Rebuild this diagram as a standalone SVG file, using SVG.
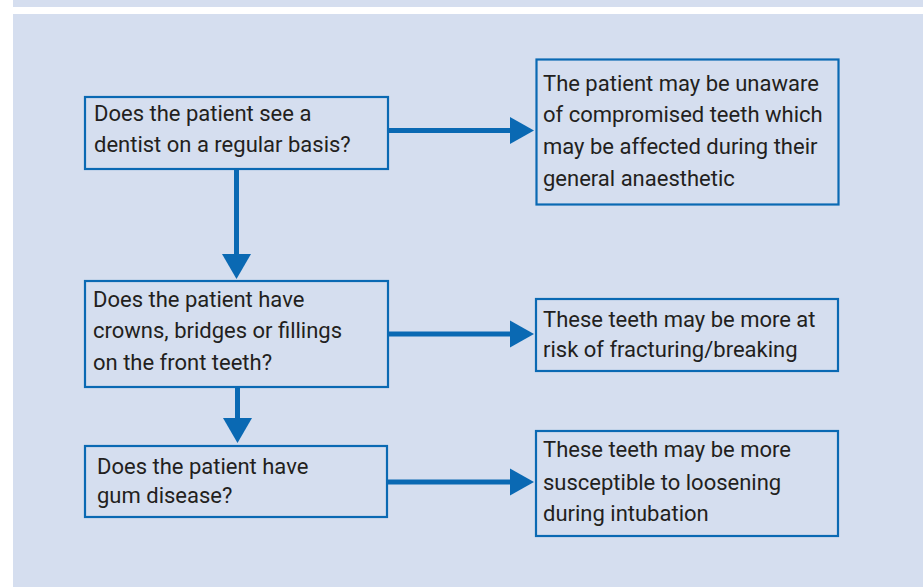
<svg xmlns="http://www.w3.org/2000/svg" width="923" height="587" viewBox="0 0 923 587">
<style>
.box{fill:none;stroke:#0a69b3;stroke-width:2.2}
.t{font-family:Roboto,"Open Sans",sans-serif;font-size:22px;fill:#231f20}
.ln{stroke:#0a69b3;stroke-width:5;fill:none}
.hd{fill:#0a69b3}
</style>
<rect x="0" y="0" width="923" height="587" fill="#ffffff"/>
<rect x="13" y="0" width="910" height="7" fill="#d5deef"/>
<rect x="13" y="14" width="910" height="573" fill="#d5deef"/>
<g id="connectors">
<line class="ln" x1="388" y1="130.5" x2="512" y2="130.5"/>
<polygon class="hd" points="510,117 534,130.5 510,144"/>
<line class="ln" x1="388" y1="334" x2="512" y2="334"/>
<polygon class="hd" points="510,320.5 534,334 510,347.5"/>
<line class="ln" x1="387" y1="482" x2="512" y2="482"/>
<polygon class="hd" points="510,468.5 534,482 510,495.5"/>
<line class="ln" x1="236.5" y1="169" x2="236.5" y2="256"/>
<polygon class="hd" points="222,254 251,254 236.5,279"/>
<line class="ln" x1="237.5" y1="387" x2="237.5" y2="420"/>
<polygon class="hd" points="223,418 252,418 237.5,443"/>
</g>
<g id="q1">
<rect class="box" x="85" y="97" width="303" height="72"/>
<text class="t" x="94" y="121">Does the patient see a</text>
<text class="t" x="94" y="152">dentist on a regular basis?</text>
</g>
<g id="a1">
<rect class="box" x="536.5" y="59.5" width="302" height="145"/>
<text class="t" x="543" y="91">The patient may be unaware</text>
<text class="t" x="543" y="122">of compromised teeth which</text>
<text class="t" x="543" y="154">may be affected during their</text>
<text class="t" x="543" y="186">general anaesthetic</text>
</g>
<g id="q2">
<rect class="box" x="85" y="281" width="303" height="106"/>
<text class="t" x="93" y="307">Does the patient have</text>
<text class="t" x="93" y="338">crowns, bridges or fillings</text>
<text class="t" x="93" y="370">on the front teeth?</text>
</g>
<g id="a2">
<rect class="box" x="536" y="299" width="302" height="72"/>
<text class="t" x="543" y="327">These teeth may be more at</text>
<text class="t" x="543" y="357">risk of fracturing/breaking</text>
</g>
<g id="q3">
<rect class="box" x="85" y="446" width="302" height="71"/>
<text class="t" x="97" y="474">Does the patient have</text>
<text class="t" x="97" y="503">gum disease?</text>
</g>
<g id="a3">
<rect class="box" x="536" y="431" width="302" height="105"/>
<text class="t" x="543" y="457">These teeth may be more</text>
<text class="t" x="543" y="490">susceptible to loosening</text>
<text class="t" x="543" y="521">during intubation</text>
</g>
</svg>
